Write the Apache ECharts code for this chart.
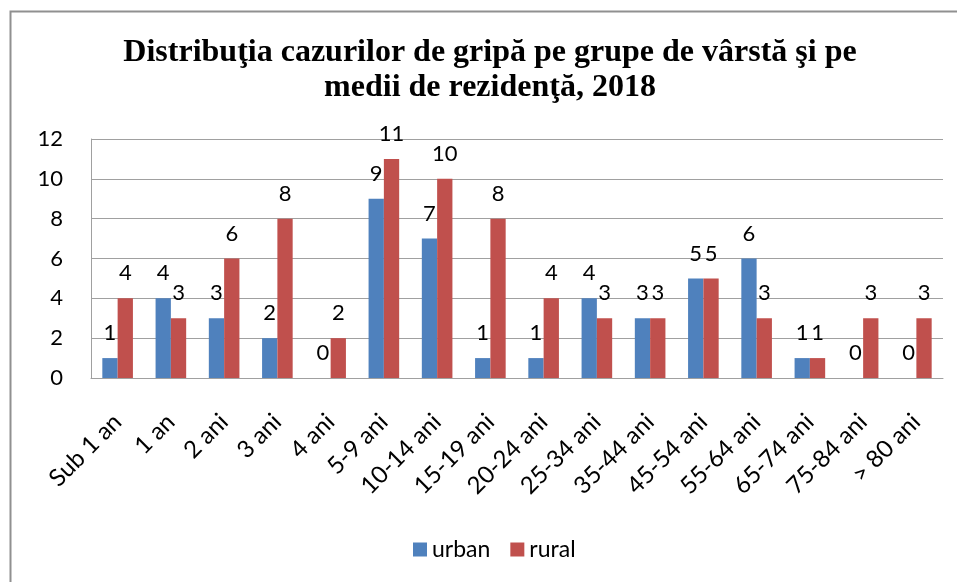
<!DOCTYPE html>
<html>
<head>
<meta charset="utf-8">
<script src="https://cdn.jsdelivr.net/npm/echarts@6/dist/echarts.min.js"></script>
<style>
html,body{margin:0;padding:0;background:#fff;}
#chart{width:957px;height:582px;}
</style>
</head>
<body>
<div id="chart"></div>
<script>
const categories = ['Sub 1 an','1 an','2 ani','3 ani','4 ani','5-9 ani','10-14 ani','15-19 ani','20-24 ani','25-34 ani','35-44 ani','45-54 ani','55-64 ani','65-74 ani','75-84 ani','> 80 ani'];
const urban = [1,4,3,2,0,9,7,1,1,4,3,5,6,1,0,0];
const rural = [4,3,6,8,2,11,10,8,4,3,3,5,3,1,3,3];
const seriesNames = ['urban','rural'];
const yTicks = {min:0, max:12, interval:2};

const FONT = 'Lato';
const chart = echarts.init(document.getElementById('chart'), null, {renderer:'canvas'});
const labelCfg = {show:true, position:'top', distance:14, fontSize:22, fontFamily:FONT, color:'#000'};
chart.setOption({
  animation:false,
  backgroundColor:'#fff',
  title:{
    text:'Distribuţia cazurilor de gripă pe grupe de vârstă şi pe\nmedii de rezidenţă, 2018',
    left:490, top:35, padding:0, textAlign:'center',
    textStyle:{fontFamily:'Liberation Serif', fontWeight:'bold', fontSize:32, lineHeight:35, color:'#000'}
  },
  graphic:[{
    type:'rect', shape:{x:10.5, y:11.5, width:1000, height:1000},
    style:{fill:'none', stroke:'#909090', lineWidth:2}, silent:true, z:-10
  }],
  legend:{
    data:seriesNames, left:413, top:538, padding:0, itemWidth:14, itemHeight:14, itemGap:20,
    icon:'rect',
    textStyle:{fontFamily:FONT, fontSize:23, color:'#000'}
  },
  grid:{left:91, right:14, top:139, bottom:204, containLabel:false},
  xAxis:{
    type:'category', data:categories,
    axisLine:{lineStyle:{color:'#a0a0a0', width:1}},
    axisTick:{show:false},
    axisLabel:{rotate:45, interval:0, margin:40, fontSize:24, fontFamily:FONT, color:'#000'}
  },
  yAxis:{
    type:'value', min:yTicks.min, max:yTicks.max, interval:yTicks.interval,
    axisLine:{show:true, lineStyle:{color:'#a0a0a0', width:1}},
    axisTick:{show:false},
    splitLine:{show:true, lineStyle:{color:'#a0a0a0', width:1}},
    axisLabel:{margin:28, fontSize:22, fontFamily:FONT, color:'#000'}
  },
  series:[
    {name:seriesNames[0], type:'bar', data:urban, barWidth:15.3, barGap:'0%', itemStyle:{color:'#4F81BD'}, label:labelCfg},
    {name:seriesNames[1], type:'bar', data:rural, barWidth:15.3, barGap:'0%', itemStyle:{color:'#C0504D'}, label:labelCfg}
  ]
});
</script>
</body>
</html>
